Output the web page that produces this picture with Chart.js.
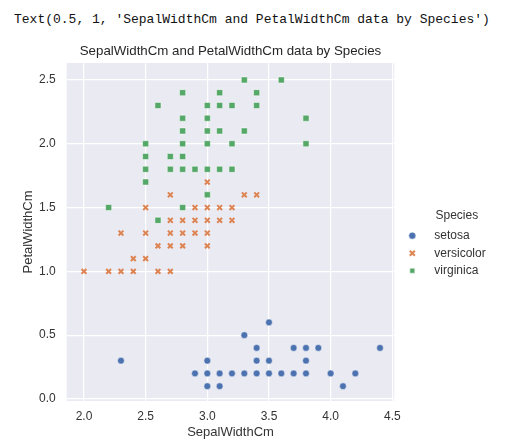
<!DOCTYPE html>
<html>
<head>
<meta charset="utf-8">
<script src="https://cdn.jsdelivr.net/npm/chart.js@4.4.1/dist/chart.umd.min.js"></script>
<style>
  body { margin: 0; background: #fff; }
  #wrap { position: relative; width: 525px; height: 448px; }
  #out { position: absolute; left: 14px; top: 12px; font: 13px "Liberation Mono", monospace; color: #111; white-space: pre; }
  canvas { position: absolute; left: 0; top: 0; }
</style>
</head>
<body>
<div id="wrap">
  <div id="out">Text(0.5, 1, 'SepalWidthCm and PetalWidthCm data by Species')</div>
  <canvas id="chart" width="525" height="448"></canvas>
</div>
<script>
// values
const species = ['setosa', 'versicolor', 'virginica'];

const setosaX = [3.5, 3.3, 3.4, 3.7, 3.8, 3.9, 4.4, 2.3, 3.0, 3.4, 3.5, 3.8,
  2.9, 3.0, 3.1, 3.2, 3.3, 3.4, 3.5, 3.6, 3.7, 3.8, 4.0, 4.2, 3.0, 3.1, 4.1];
const setosaY = [0.6, 0.5, 0.4, 0.4, 0.4, 0.4, 0.4, 0.3, 0.3, 0.3, 0.3, 0.3,
  0.2, 0.2, 0.2, 0.2, 0.2, 0.2, 0.2, 0.2, 0.2, 0.2, 0.2, 0.2, 0.1, 0.1, 0.1];

const versicolorX = [3.0, 2.7, 3.3, 3.4, 2.5, 2.9, 3.0, 3.1, 3.2,
  2.7, 2.8, 2.9, 3.0, 3.1, 3.2, 2.3, 2.5, 2.7, 2.8, 2.9, 3.0,
  2.6, 2.7, 2.8, 3.0, 2.4, 2.5, 2.0, 2.2, 2.3, 2.4, 2.6, 2.7];
const versicolorY = [1.7, 1.6, 1.6, 1.6, 1.5, 1.5, 1.5, 1.5, 1.5,
  1.4, 1.4, 1.4, 1.4, 1.4, 1.4, 1.3, 1.3, 1.3, 1.3, 1.3, 1.3,
  1.2, 1.2, 1.2, 1.2, 1.1, 1.1, 1.0, 1.0, 1.0, 1.0, 1.0, 1.0];

const virginicaX = [3.3, 3.6, 2.8, 3.1, 3.4, 2.6, 3.0, 3.1, 3.2, 3.4,
  2.8, 3.0, 3.8, 2.8, 3.0, 3.1, 3.3, 2.5, 2.8, 3.0, 3.2, 3.8,
  2.5, 2.7, 2.8, 2.5, 2.7, 2.8, 2.9, 3.0, 3.1, 3.2, 2.5, 3.0, 2.2, 2.8, 2.6];
const virginicaY = [2.5, 2.5, 2.4, 2.4, 2.4, 2.3, 2.3, 2.3, 2.3, 2.3,
  2.2, 2.2, 2.2, 2.1, 2.1, 2.1, 2.1, 2.0, 2.0, 2.0, 2.0, 2.0,
  1.9, 1.9, 1.9, 1.8, 1.8, 1.8, 1.8, 1.8, 1.8, 1.8, 1.7, 1.6, 1.5, 1.5, 1.4];

const xTicks = [2.0, 2.5, 3.0, 3.5, 4.0, 4.5];
const yTicks = [0.0, 0.5, 1.0, 1.5, 2.0, 2.5];

function toPoints(xs, ys) {
    return xs.map((x, i) => ({ x: x, y: ys[i] }));
}

const textColor = '#333';
const legendWidth = 112;
const legendShift = 6.5;

// grey plot background like seaborn darkgrid
const plotBg = {
    id: 'plotBg',
    beforeDraw(chart) {
        const { ctx, chartArea: a } = chart;
        ctx.save();
        ctx.fillStyle = '#EAEAF2';
        ctx.fillRect(a.left, a.top, a.right - a.left, a.bottom - a.top);
        ctx.restore();
    }
};

// fixed legend width and a small nudge to the right
const legendFix = {
    id: 'legendFix',
    beforeUpdate(chart) {
        const lg = chart.legend;
        if (lg && !lg._fixed) {
            const fit = lg.fit.bind(lg);
            lg.fit = function () { fit(); this.width = legendWidth; };
            lg._fixed = true;
        }
    },
    afterLayout(chart) {
        const lg = chart.legend;
        if (lg) { lg.left += legendShift; lg.right += legendShift; }
    }
};

new Chart(document.getElementById('chart'), {
    type: 'scatter',
    data: {
        datasets: [{
            label: '   ' + species[0],
            data: toPoints(setosaX, setosaY),
            pointStyle: 'circle',
            pointRadius: 3.4,
            backgroundColor: '#4C72B0',
            borderColor: '#ffffff',
            borderWidth: 0.5,
            order: 2
        }, {
            label: '   ' + species[1],
            data: toPoints(versicolorX, versicolorY),
            pointStyle: 'crossRot',
            pointRadius: 3.4,
            backgroundColor: '#DD8452',
            borderColor: '#DD8452',
            borderWidth: 2,
            order: 1
        }, {
            label: '   ' + species[2],
            data: toPoints(virginicaX, virginicaY),
            pointStyle: 'rect',
            pointRadius: 4.3,
            backgroundColor: '#55A868',
            borderColor: '#ffffff',
            borderWidth: 0.5,
            order: 0
        }]
    },
    options: {
        responsive: false,
        animation: false,
        layout: { padding: { left: 0, right: 130.7 - legendWidth, top: 0, bottom: 0 } },
        scales: {
            x: {
                type: 'linear',
                min: 1.86,
                max: 4.516,
                afterBuildTicks: s => { s.ticks = xTicks.map(v => ({ value: v })); },
                afterFit: s => { s.height = 47; },
                grid: { color: '#ffffff', lineWidth: 1.2, drawTicks: false },
                border: { display: false },
                ticks: { padding: 8, color: textColor, font: { size: 12 }, callback: v => v.toFixed(1) },
                title: { display: true, text: 'SepalWidthCm', color: textColor, font: { size: 13 }, padding: { top: 0, bottom: 8 } }
            },
            y: {
                type: 'linear',
                min: -0.016,
                max: 2.633,
                afterBuildTicks: s => { s.ticks = yTicks.map(v => ({ value: v })); },
                afterFit: s => { s.width = 66.7; },
                grid: { color: '#ffffff', lineWidth: 1.2, drawTicks: false },
                border: { display: false },
                ticks: { padding: 11, color: textColor, font: { size: 12 }, callback: v => v.toFixed(1) },
                title: { display: true, text: 'PetalWidthCm', color: textColor, font: { size: 13 }, padding: { top: 21, bottom: 0 } }
            }
        },
        plugins: {
            title: {
                display: true,
                text: 'SepalWidthCm and PetalWidthCm data by Species',
                color: '#262626',
                fullSize: false,
                font: { size: 13.3, weight: 'normal' },
                padding: { top: 43, bottom: 4 }
            },
            legend: {
                position: 'right',
                align: 'center',
                labels: {
                    usePointStyle: true,
                    boxWidth: 12,
                    boxHeight: 5,
                    padding: 5.5,
                    color: textColor,
                    font: { size: 12 },
                    sort: (a, b) => a.datasetIndex - b.datasetIndex
                },
                title: { display: true, text: 'Species', color: textColor, font: { size: 12 }, padding: { top: 44, bottom: 0 } }
            },
            tooltip: { enabled: false }
        }
    },
    plugins: [plotBg, legendFix]
});
</script>
</body>
</html>
